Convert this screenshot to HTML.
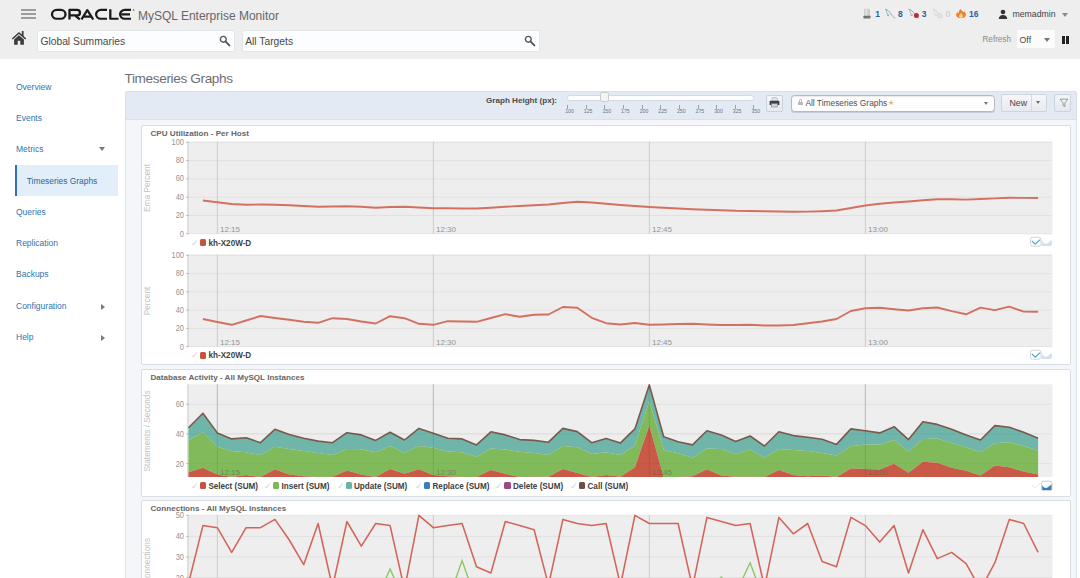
<!DOCTYPE html>
<html>
<head>
<meta charset="utf-8">
<title>MySQL Enterprise Monitor</title>
<style>
*{box-sizing:border-box;margin:0;padding:0}
html,body{width:1080px;height:578px;overflow:hidden;background:#fff;font-family:"Liberation Sans",sans-serif;color:#444}
.abs{position:absolute}
.t{position:absolute;white-space:nowrap;line-height:1}
#hdr{position:absolute;left:0;top:0;width:1080px;height:59px;background:#eeeeee}
.inp{position:absolute;top:29.5px;height:22.5px;background:#fcfdfe;border:1px solid #e4e7ea;border-radius:2px}
.nav{position:absolute;left:16px;font-size:8.5px;color:#2f74ae;white-space:nowrap;line-height:1}
.ax{position:absolute;font-size:8.4px;color:#939393;white-space:nowrap;line-height:1;text-align:right;width:30px;transform:scaleX(.89);transform-origin:100% 50%}
.xl{position:absolute;font-size:8px;color:#939393;white-space:nowrap;line-height:1}
.ttl{position:absolute;font-size:8.1px;font-weight:bold;color:#666;white-space:nowrap;line-height:1;left:150.5px}
.lg{position:absolute;font-size:8.15px;font-weight:bold;color:#404040;white-space:nowrap;line-height:1}
.sq{position:absolute;width:6.2px;height:7px;border-radius:1.5px;margin-top:-0.8px}
.ck{position:absolute;font-size:8.5px;color:#cbd7e4;line-height:1;margin-left:-1.5px;margin-top:-0.6px}
.yl{position:absolute;left:147px;font-size:8.3px;color:#c2c2c2;white-space:nowrap;line-height:1;transform:translate(-50%,-50%) rotate(-90deg)}
.panel{position:absolute;left:141px;width:930px;background:#fff;border:1px solid #d9dee5;border-radius:2px}
</style>
</head>
<body>
<div id="hdr">
  <!-- hamburger -->
  <div class="abs" style="left:20.6px;top:9.2px;width:15px;height:1.8px;background:#9c9c9c"></div>
  <div class="abs" style="left:20.6px;top:13.2px;width:15px;height:1.8px;background:#9c9c9c"></div>
  <div class="abs" style="left:20.6px;top:17.2px;width:15px;height:1.8px;background:#9c9c9c"></div>
  <!-- ORACLE logo -->
  <svg class="abs" style="left:50px;top:7.600px" width="86" height="13.2" viewBox="0 0 86 14" preserveAspectRatio="none">
    <g fill="none" stroke="#1a1a1a" stroke-width="2.3" stroke-linecap="butt" stroke-linejoin="round">
      <rect x="2" y="2" width="13.5" height="9.4" rx="4.7" ry="4.7"/>
      <path d="M19.5 12.2V2H27a2.9 2.9 0 0 1 0 5.9H20.5M25 7.9L29.8 12"/>
      <path d="M31.5 12.2L37.3 2.2L43.2 12.2M33.6 9.2H41.2"/>
      <path d="M57 2H50.8a4.7 4.7 0 0 0 0 9.4H57"/>
      <path d="M60.3 1.2V11.4H68.5"/>
      <path d="M81 2H74.8a4.7 4.7 0 0 0 0 9.4H81M71.5 6.7H80"/>
    </g>
    <circle cx="83.6" cy="2.2" r="0.8" fill="#555"/>
  </svg>
  <div class="t" id="mem" style="left:138px;top:9.6px;font-size:12px;color:#666">MySQL Enterprise Monitor</div>

  <!-- home icon -->
  <svg class="abs" style="left:11px;top:29.6px" width="16" height="16" viewBox="0 0 16 16">
    <path d="M8 1.900L0.8 8.4L1.8 9.5L8 4L14.2 9.5L15.2 8.4L12.600 6V1H10.800V4.400Z" fill="#3c3c3c"/>
    <path d="M8 5.200L3.1 9.6V14.8H6.7V10.8H9.3V14.8H12.9V9.6Z" fill="#3c3c3c"/>
  </svg>
  <div class="inp" style="left:36.6px;width:198.2px"></div>
  <div class="t" id="gs" style="left:40.4px;top:37.3px;font-size:10.3px;color:#4a4a4a">Global Summaries</div>
  <svg class="abs" style="left:218.6px;top:34.6px" width="12" height="12" viewBox="0 0 12 12"><circle cx="4.3" cy="4.3" r="2.9" fill="none" stroke="#555" stroke-width="1.4"/><path d="M6.6 6.6L10.4 10.4" stroke="#555" stroke-width="1.9" stroke-linecap="round"/></svg>
  <div class="inp" style="left:241.8px;width:298px"></div>
  <div class="t" id="at" style="left:245.2px;top:37.3px;font-size:10.3px;color:#4a4a4a">All Targets</div>
  <svg class="abs" style="left:523.6px;top:34.6px" width="12" height="12" viewBox="0 0 12 12"><circle cx="4.3" cy="4.3" r="2.9" fill="none" stroke="#555" stroke-width="1.4"/><path d="M6.6 6.6L10.4 10.4" stroke="#555" stroke-width="1.9" stroke-linecap="round"/></svg>

  <!-- status icons -->
  <svg class="abs" style="left:862px;top:8px" width="112" height="14" viewBox="0 0 112 14">
    <rect x="2" y="0.800" width="6" height="7.600" rx="0.6" fill="#cdcdcd"/><rect x="3.200" y="1.200" width="2.200" height="7" fill="#e2e2e2"/><rect x="1.500" y="7.800" width="7" height="2.600" rx="0.4" fill="#707070"/><rect x="5.600" y="8.800" width="2" height="0.800" fill="#7fb36a"/>
    <g transform="translate(0.0,0)" opacity="1"><path d="M23.4 1.300C25.600 1.600 27.5 3.400 28.800 5.800C29.700 7.500 31 8.800 32.800 9.900" fill="none" stroke="#8fabbc" stroke-width="1" stroke-linecap="round"/><path d="M24.2 1.500C24.500 3.800 25 5.800 26.300 7.600M25.200 7.300L26.500 7.900L26.700 6.500" fill="none" stroke="#8fabbc" stroke-width="0.8" stroke-linecap="round"/></g>
    <g transform="translate(23.5,0)" opacity="1"><path d="M23.4 1.300C25.600 1.600 27.5 3.400 28.800 5.800C29.700 7.500 31 8.800 32.800 9.900" fill="none" stroke="#8fabbc" stroke-width="1" stroke-linecap="round"/><path d="M24.2 1.500C24.500 3.800 25 5.800 26.300 7.600M25.200 7.300L26.500 7.900L26.700 6.500" fill="none" stroke="#8fabbc" stroke-width="0.8" stroke-linecap="round"/></g>
    <circle cx="54.400" cy="7.600" r="2.500" fill="#c22b2b"/>
    <g transform="translate(47.6,0)" opacity="0.8"><path d="M23.4 1.300C25.600 1.600 27.5 3.400 28.800 5.800C29.700 7.500 31 8.800 32.800 9.900" fill="none" stroke="#c9d3da" stroke-width="1" stroke-linecap="round"/><path d="M24.2 1.500C24.500 3.800 25 5.800 26.300 7.600M25.200 7.300L26.500 7.900L26.700 6.500" fill="none" stroke="#c9d3da" stroke-width="0.8" stroke-linecap="round"/></g>
    <circle cx="77.700" cy="7.600" r="2.300" fill="#e3e3e3" stroke="#d0d0d0" stroke-width="0.600"/>
    <path d="M98.600 1C99.200 2.400 100.800 3 101.600 4.600C102.100 4.200 102.300 3.600 102.300 3C103.600 4.600 104.300 6.400 103.600 8C103 9.400 101.400 10 99 10C96.600 10 94.800 9.300 94.300 7.700C93.900 6.300 94.500 5 95.400 4.100C95.500 4.900 95.800 5.400 96.300 5.800C96.400 3.900 97.300 2.200 98.600 1Z" fill="#ee7d2e"/>
    <path d="M99 4.800C99.600 6 101 6.800 100.900 8.300C100.800 9.500 100 10 99 10C98 10 97 9.500 97 8.300C97 7 98.400 6.200 99 4.800Z" fill="#fbd48e"/>
  </svg>
  <div class="t" style="left:875.3px;top:9.7px;font-size:8.5px;font-weight:bold;color:#2c5f9e">1</div>
  <div class="t" style="left:898px;top:9.7px;font-size:8.5px;font-weight:bold;color:#2c5f9e">8</div>
  <div class="t" style="left:921.8px;top:9.7px;font-size:8.5px;font-weight:bold;color:#2c5f9e">3</div>
  <div class="t" style="left:945.6px;top:9.7px;font-size:8.5px;color:#c8c8c8">0</div>
  <div class="t" style="left:969px;top:9.7px;font-size:8.5px;font-weight:bold;color:#2c5f9e">16</div>
  <!-- user -->
  <svg class="abs" style="left:998px;top:9px" width="10" height="11" viewBox="0 0 10 11"><circle cx="5" cy="3" r="2.3" fill="#333"/><path d="M0.8 10C0.8 7.4 2.6 6 5 6C7.4 6 9.200 7.4 9.200 10Z" fill="#333"/></svg>
  <div class="t" id="usr" style="left:1012.5px;top:10px;font-size:8.7px;color:#444">memadmin</div>
  <div class="abs" style="left:1061.5px;top:13px;width:0;height:0;border-left:3px solid transparent;border-right:3px solid transparent;border-top:4px solid #888"></div>
  <!-- refresh -->
  <div class="t" id="rf" style="left:982.5px;top:36.2px;font-size:8.15px;color:#8a8a8a">Refresh</div>
  <div class="abs" style="left:1016.5px;top:30px;width:38.5px;height:17.600px;background:#fcfcfc;border-radius:1px"></div>
  <div class="t" style="left:1019.5px;top:35.5px;font-size:8.8px;color:#444">Off</div>
  <div class="abs" style="left:1043.5px;top:38px;width:0;height:0;border-left:3px solid transparent;border-right:3px solid transparent;border-top:4px solid #777"></div>
  <div class="abs" style="left:1062px;top:35.5px;width:2.6px;height:8.5px;background:#222"></div>
  <div class="abs" style="left:1066.2px;top:35.5px;width:2.6px;height:8.5px;background:#222"></div>
</div>

<!-- sidebar -->
<div class="abs" style="left:15px;top:165px;width:103px;height:31px;background:#e2eef9;border-left:2.4px solid #2f6fc0"></div>
<div class="nav" style="top:83.1px">Overview</div>
<div class="nav" style="top:114.0px">Events</div>
<div class="nav" style="top:145.0px">Metrics</div>
<div class="nav" style="top:176.8px;left:26.8px;font-size:8.4px;color:#2a65a3">Timeseries Graphs</div>
<div class="nav" style="top:208.1px">Queries</div>
<div class="nav" style="top:239.0px">Replication</div>
<div class="nav" style="top:270.4px">Backups</div>
<div class="nav" style="top:302.2px">Configuration</div>
<div class="nav" style="top:333.1px">Help</div>
<div class="abs" style="left:99.2px;top:147.4px;width:0;height:0;border-left:3px solid transparent;border-right:3px solid transparent;border-top:4px solid #7a7a7a"></div>
<div class="abs" style="left:100.6px;top:303.7px;width:0;height:0;border-top:3px solid transparent;border-bottom:3px solid transparent;border-left:4px solid #7a7a7a"></div>
<div class="abs" style="left:100.6px;top:334.7px;width:0;height:0;border-top:3px solid transparent;border-bottom:3px solid transparent;border-left:4px solid #7a7a7a"></div>

<!-- heading -->
<div class="t" id="h1" style="left:124.5px;top:71.5px;font-size:13.6px;letter-spacing:-0.36px;color:#6e6e6e">Timeseries Graphs</div>

<!-- container -->
<div class="abs" style="left:125px;top:91px;width:952px;height:500px;background:#f4f6fa;border:1px solid #dde3ec;border-radius:2px"></div>
<div class="abs" style="left:125px;top:91px;width:952px;height:28.6px;background:#e3eaf4;border:1px solid #d8e0ea;border-radius:2px 2px 0 0"></div>

<!-- toolbar content -->
<div class="t" id="gh" style="left:486px;top:96.500px;font-size:8.1px;font-weight:bold;color:#4a4a4a">Graph Height (px):</div>
<div class="abs" style="left:566.8px;top:94.6px;width:187px;height:6.2px;background:#fdfdfd;border:1px solid #d3d9e2;border-radius:2.5px"></div>
<div class="abs" style="left:600.2px;top:92.2px;width:9.2px;height:9.4px;background:#f4f4f4;border:1px solid #cdcdcd;border-radius:2px"></div>
<div class="abs" style="left:567.2px;top:104.6px;width:1px;height:4px;background:#98a0ac"></div><div class="t" style="left:565.2px;top:109.4px;font-size:5.2px;color:#6a7380">100</div><div class="abs" style="left:585.8px;top:104.6px;width:1px;height:4px;background:#98a0ac"></div><div class="t" style="left:583.8px;top:109.4px;font-size:5.2px;color:#6a7380">125</div><div class="abs" style="left:604.4px;top:104.6px;width:1px;height:4px;background:#98a0ac"></div><div class="t" style="left:602.4px;top:109.4px;font-size:5.2px;color:#6a7380">150</div><div class="abs" style="left:623.1px;top:104.6px;width:1px;height:4px;background:#98a0ac"></div><div class="t" style="left:621.1px;top:109.4px;font-size:5.2px;color:#6a7380">175</div><div class="abs" style="left:641.7px;top:104.6px;width:1px;height:4px;background:#98a0ac"></div><div class="t" style="left:639.7px;top:109.4px;font-size:5.2px;color:#6a7380">200</div><div class="abs" style="left:660.3px;top:104.6px;width:1px;height:4px;background:#98a0ac"></div><div class="t" style="left:658.3px;top:109.4px;font-size:5.2px;color:#6a7380">225</div><div class="abs" style="left:678.9px;top:104.6px;width:1px;height:4px;background:#98a0ac"></div><div class="t" style="left:676.9px;top:109.4px;font-size:5.2px;color:#6a7380">250</div><div class="abs" style="left:697.5px;top:104.6px;width:1px;height:4px;background:#98a0ac"></div><div class="t" style="left:695.5px;top:109.4px;font-size:5.2px;color:#6a7380">275</div><div class="abs" style="left:716.2px;top:104.6px;width:1px;height:4px;background:#98a0ac"></div><div class="t" style="left:714.2px;top:109.4px;font-size:5.2px;color:#6a7380">300</div><div class="abs" style="left:734.8px;top:104.6px;width:1px;height:4px;background:#98a0ac"></div><div class="t" style="left:732.8px;top:109.4px;font-size:5.2px;color:#6a7380">325</div><div class="abs" style="left:753.4px;top:104.6px;width:1px;height:4px;background:#98a0ac"></div><div class="t" style="left:751.4px;top:109.4px;font-size:5.2px;color:#6a7380">350</div>
<!-- print button -->
<div class="abs" style="left:765.5px;top:94.6px;width:17.2px;height:17.4px;background:linear-gradient(#f3f5f8,#e7eaef);border:1px solid #cbd2dc;border-radius:2px"></div>
<svg class="abs" style="left:768.6px;top:97.4px" width="11" height="11" viewBox="0 0 11 11"><path d="M3 0.6H7.4L8.4 1.6V4H3Z" fill="#dfe6e6" stroke="#9aa" stroke-width="0.5"/><path d="M1.4 3.800H9.600Q10.4 3.800 10.4 4.600V8H0.6V4.600Q0.6 3.800 1.4 3.800Z" fill="#3d4046"/><rect x="2.4" y="6.6" width="6.2" height="3.4" fill="#cfd4d8" stroke="#777" stroke-width="0.5"/></svg>
<!-- select -->
<div class="abs" style="left:790.500px;top:94.6px;width:204px;height:17.6px;background:#fdfdfd;border:1px solid #b4b9c1;border-radius:3.5px;box-shadow:inset 0 1px 1px rgba(0,0,0,.08),0 1px 0 rgba(120,120,120,.25)"></div>
<div class="abs" style="left:797.8px;top:101.6px;width:5.4px;height:3.8px;background:#b9b9b9;border-radius:0.6px"></div><div class="abs" style="left:798.8px;top:99.2px;width:3.4px;height:3.6px;border:0.9px solid #b9b9b9;border-bottom:none;border-radius:1.7px 1.7px 0 0"></div>
<div class="t" id="sel" style="left:805.4px;top:98.6px;font-size:8.4px;color:#505050">All Timeseries Graphs</div>
<div class="t" style="left:887.8px;top:99.2px;font-size:7px;color:#dcb94e">&#9733;</div>
<div class="abs" style="left:984px;top:101.5px;width:0;height:0;border-left:2.2px solid transparent;border-right:2.2px solid transparent;border-top:3.2px solid #787878"></div>
<!-- New button -->
<div class="abs" style="left:1000.5px;top:94.3px;width:46.600px;height:17.600px;background:linear-gradient(#f5f6f9,#e7eaef);border:1px solid #ccd3dd;border-radius:2px"></div>
<div class="abs" style="left:1031px;top:94.5px;width:1px;height:17px;background:#d4d9e0"></div>
<div class="t" style="left:1009.500px;top:98.500px;font-size:8.8px;color:#444">New</div>
<div class="abs" style="left:1036px;top:101px;width:0;height:0;border-left:2.5px solid transparent;border-right:2.5px solid transparent;border-top:3.2px solid #6a6a6a"></div>
<!-- filter -->
<div class="abs" style="left:1054.3px;top:94.3px;width:17.2px;height:17.600px;background:linear-gradient(#f3f5f8,#e5e8ee);border:1px solid #ccd3dd;border-radius:2px"></div>
<svg class="abs" style="left:1058.5px;top:98px" width="10" height="10" viewBox="0 0 10 10"><path d="M1.2 1.2H8.8L5.9 4.800V8.6L4.100 7.600V4.800Z" fill="#f7f7f7" stroke="#8a8a8a" stroke-width="0.9" stroke-linejoin="round"/></svg>

<!-- panels -->
<div class="panel" style="top:125.2px;height:240.300px"></div>
<div class="panel" style="top:369.3px;height:127.600px"></div>
<div class="panel" style="top:500px;height:90px"></div>

<svg class="abs" style="left:0;top:0" width="1080" height="578" viewBox="0 0 1080 578">
<rect x="188.5" y="141.6" width="864.0" height="92.2" fill="#eeeeee"/>
<line x1="188.5" x2="1052.5" y1="142.3" y2="142.3" stroke="#d4d4d4" stroke-width="1" stroke-dasharray="1,1"/><line x1="188.5" x2="1052.5" y1="160.6" y2="160.6" stroke="#d4d4d4" stroke-width="1" stroke-dasharray="1,1"/><line x1="188.5" x2="1052.5" y1="178.9" y2="178.9" stroke="#d4d4d4" stroke-width="1" stroke-dasharray="1,1"/><line x1="188.5" x2="1052.5" y1="197.2" y2="197.2" stroke="#d4d4d4" stroke-width="1" stroke-dasharray="1,1"/><line x1="188.5" x2="1052.5" y1="215.5" y2="215.5" stroke="#d4d4d4" stroke-width="1" stroke-dasharray="1,1"/><line x1="188.5" x2="1052.5" y1="233.8" y2="233.8" stroke="#d4d4d4" stroke-width="1" stroke-dasharray="1,1"/>
<line x1="217.4" x2="217.4" y1="141.6" y2="233.8" stroke="#cdcdcd" stroke-width="1.1"/><line x1="433.4" x2="433.4" y1="141.6" y2="233.8" stroke="#cdcdcd" stroke-width="1.1"/><line x1="649.4" x2="649.4" y1="141.6" y2="233.8" stroke="#cdcdcd" stroke-width="1.1"/><line x1="865.4" x2="865.4" y1="141.6" y2="233.8" stroke="#cdcdcd" stroke-width="1.1"/>
<line x1="188" x2="188" y1="141.6" y2="233.8" stroke="#d9d9d9" stroke-width="1.6"/><line x1="186.3" x2="188.6" y1="142.3" y2="142.3" stroke="#b6b6b6" stroke-width="1"/><line x1="186.3" x2="188.6" y1="160.6" y2="160.6" stroke="#b6b6b6" stroke-width="1"/><line x1="186.3" x2="188.6" y1="178.9" y2="178.9" stroke="#b6b6b6" stroke-width="1"/><line x1="186.3" x2="188.6" y1="197.2" y2="197.2" stroke="#b6b6b6" stroke-width="1"/><line x1="186.3" x2="188.6" y1="215.5" y2="215.5" stroke="#b6b6b6" stroke-width="1"/><line x1="186.3" x2="188.6" y1="233.8" y2="233.8" stroke="#b6b6b6" stroke-width="1"/>
<polyline fill="none" stroke="#d4705f" stroke-width="1.9" stroke-linejoin="round" points="202.9,200.5 217.3,202.2 231.7,204.0 246.1,204.8 260.5,204.5 274.9,204.8 289.3,205.2 303.7,206.0 318.1,206.8 332.5,206.5 346.9,206.2 361.3,206.8 375.7,207.8 390.1,207.0 404.5,206.8 418.9,207.5 433.3,208.2 447.7,208.2 462.1,208.5 476.5,208.5 490.9,207.8 505.3,206.8 519.7,206.0 534.1,205.2 548.5,204.5 562.9,203.0 577.3,201.8 591.7,202.5 606.1,203.8 620.5,205.0 634.9,206.0 649.3,207.0 663.7,207.8 678.1,208.5 692.5,209.2 706.9,209.8 721.3,210.2 735.7,210.8 750.1,211.0 764.5,211.2 778.9,211.5 793.3,211.8 807.7,211.6 822.1,211.2 836.5,210.5 850.9,208.0 865.3,205.5 879.7,203.8 894.1,202.5 908.5,201.5 922.9,200.2 937.3,199.2 951.7,199.2 966.1,199.6 980.5,199.0 994.9,198.4 1009.3,197.8 1023.7,197.9 1038.1,198.0"/>
<rect x="188.5" y="254.4" width="864.0" height="92.4" fill="#eeeeee"/>
<line x1="188.5" x2="1052.5" y1="255.3" y2="255.3" stroke="#d4d4d4" stroke-width="1" stroke-dasharray="1,1"/><line x1="188.5" x2="1052.5" y1="273.6" y2="273.6" stroke="#d4d4d4" stroke-width="1" stroke-dasharray="1,1"/><line x1="188.5" x2="1052.5" y1="291.8" y2="291.8" stroke="#d4d4d4" stroke-width="1" stroke-dasharray="1,1"/><line x1="188.5" x2="1052.5" y1="310.1" y2="310.1" stroke="#d4d4d4" stroke-width="1" stroke-dasharray="1,1"/><line x1="188.5" x2="1052.5" y1="328.4" y2="328.4" stroke="#d4d4d4" stroke-width="1" stroke-dasharray="1,1"/><line x1="188.5" x2="1052.5" y1="346.6" y2="346.6" stroke="#d4d4d4" stroke-width="1" stroke-dasharray="1,1"/>
<line x1="217.4" x2="217.4" y1="254.4" y2="346.8" stroke="#cdcdcd" stroke-width="1.1"/><line x1="433.4" x2="433.4" y1="254.4" y2="346.8" stroke="#cdcdcd" stroke-width="1.1"/><line x1="649.4" x2="649.4" y1="254.4" y2="346.8" stroke="#cdcdcd" stroke-width="1.1"/><line x1="865.4" x2="865.4" y1="254.4" y2="346.8" stroke="#cdcdcd" stroke-width="1.1"/>
<line x1="188" x2="188" y1="254.4" y2="346.8" stroke="#d9d9d9" stroke-width="1.6"/><line x1="186.3" x2="188.6" y1="255.3" y2="255.3" stroke="#b6b6b6" stroke-width="1"/><line x1="186.3" x2="188.6" y1="273.6" y2="273.6" stroke="#b6b6b6" stroke-width="1"/><line x1="186.3" x2="188.6" y1="291.8" y2="291.8" stroke="#b6b6b6" stroke-width="1"/><line x1="186.3" x2="188.6" y1="310.1" y2="310.1" stroke="#b6b6b6" stroke-width="1"/><line x1="186.3" x2="188.6" y1="328.4" y2="328.4" stroke="#b6b6b6" stroke-width="1"/><line x1="186.3" x2="188.6" y1="346.6" y2="346.6" stroke="#b6b6b6" stroke-width="1"/>
<polyline fill="none" stroke="#d4705f" stroke-width="1.9" stroke-linejoin="round" points="202.9,319.0 217.3,322.0 231.7,324.8 246.1,320.5 260.5,316.0 274.9,318.0 289.3,319.8 303.7,321.8 318.1,322.8 332.5,318.2 346.9,319.0 361.3,321.5 375.7,323.5 390.1,316.2 404.5,318.2 418.9,323.8 433.3,324.8 447.7,321.2 462.1,321.5 476.5,321.8 490.9,318.0 505.3,314.2 519.7,316.8 534.1,314.8 548.5,314.5 562.9,307.0 577.3,307.8 591.7,317.8 606.1,323.2 620.5,324.5 634.9,323.0 649.3,324.8 663.7,324.5 678.1,324.0 692.5,323.8 706.9,324.5 721.3,325.0 735.7,325.0 750.1,324.8 764.5,325.5 778.9,325.5 793.3,325.0 807.7,323.2 822.1,321.5 836.5,319.0 850.9,311.0 865.3,308.2 879.7,307.8 894.1,309.2 908.5,310.5 922.9,308.2 937.3,307.5 951.7,311.1 966.1,314.3 980.5,307.6 994.9,310.1 1009.3,306.7 1023.7,311.6 1038.1,311.8"/>
<rect x="188.5" y="384.3" width="864.0" height="92.8" fill="#eeeeee"/>
<line x1="188.5" x2="1052.5" y1="404.3" y2="404.3" stroke="#d4d4d4" stroke-width="1" stroke-dasharray="1,1"/><line x1="188.5" x2="1052.5" y1="433.9" y2="433.9" stroke="#d4d4d4" stroke-width="1" stroke-dasharray="1,1"/><line x1="188.5" x2="1052.5" y1="463.6" y2="463.6" stroke="#d4d4d4" stroke-width="1" stroke-dasharray="1,1"/>
<line x1="217.4" x2="217.4" y1="384.3" y2="477.1" stroke="#cdcdcd" stroke-width="1.1"/><line x1="433.4" x2="433.4" y1="384.3" y2="477.1" stroke="#cdcdcd" stroke-width="1.1"/><line x1="649.4" x2="649.4" y1="384.3" y2="477.1" stroke="#cdcdcd" stroke-width="1.1"/><line x1="865.4" x2="865.4" y1="384.3" y2="477.1" stroke="#cdcdcd" stroke-width="1.1"/>
<line x1="188" x2="188" y1="384.3" y2="477.1" stroke="#d9d9d9" stroke-width="1.6"/><line x1="186.3" x2="188.6" y1="404.3" y2="404.3" stroke="#b6b6b6" stroke-width="1"/><line x1="186.3" x2="188.6" y1="433.9" y2="433.9" stroke="#b6b6b6" stroke-width="1"/><line x1="186.3" x2="188.6" y1="463.6" y2="463.6" stroke="#b6b6b6" stroke-width="1"/>
<polygon fill="#6fb5aa" points="188.5,427.8 202.9,413.3 217.3,432.9 231.7,438.9 246.1,437.8 260.5,442.7 274.9,429.3 289.3,434.4 303.7,438.2 318.1,441.1 332.5,442.7 346.9,432.7 361.3,434.9 375.7,440.4 390.1,432.2 404.5,440.0 418.9,428.4 433.3,433.3 447.7,438.2 462.1,438.9 476.5,444.9 490.9,431.8 505.3,434.9 519.7,439.6 534.1,440.4 548.5,442.2 562.9,428.4 577.3,431.6 591.7,442.7 606.1,438.4 620.5,442.9 634.9,428.9 649.3,384.9 663.7,436.7 678.1,441.8 692.5,444.9 706.9,430.7 721.3,434.9 735.7,441.6 750.1,436.0 764.5,446.0 778.9,431.8 793.3,435.6 807.7,437.3 822.1,439.3 836.5,444.4 850.9,428.9 865.3,430.7 879.7,432.9 894.1,426.7 908.5,439.6 922.9,421.8 937.3,424.4 951.7,429.3 966.1,434.9 980.5,440.0 994.9,425.6 1009.3,427.3 1023.7,432.2 1038.1,438.2 1038.1,450.4 1023.7,446.0 1009.3,442.2 994.9,443.3 980.5,452.2 966.1,447.3 951.7,442.9 937.3,438.4 922.9,438.9 908.5,451.6 894.1,440.0 879.7,444.7 865.3,444.4 850.9,446.2 836.5,455.6 822.1,452.9 807.7,451.1 793.3,450.0 778.9,448.9 764.5,457.8 750.1,449.6 735.7,454.0 721.3,448.9 706.9,448.4 692.5,457.8 678.1,453.3 663.7,450.0 649.3,401.1 634.9,445.6 620.5,455.1 606.1,452.2 591.7,454.0 577.3,447.3 562.9,446.0 548.5,454.9 534.1,452.9 519.7,451.8 505.3,449.6 490.9,448.4 476.5,456.7 462.1,452.2 447.7,451.6 433.3,447.8 418.9,446.0 404.5,452.7 390.1,446.0 375.7,452.2 361.3,449.3 346.9,448.9 332.5,455.1 318.1,452.9 303.7,451.1 289.3,448.9 274.9,446.7 260.5,455.1 246.1,452.2 231.7,451.1 217.3,446.7 202.9,432.2 188.5,440.0"/>
<polygon fill="#80ba5a" points="188.5,440.0 202.9,432.2 217.3,446.7 231.7,451.1 246.1,452.2 260.5,455.1 274.9,446.7 289.3,448.9 303.7,451.1 318.1,452.9 332.5,455.1 346.9,448.9 361.3,449.3 375.7,452.2 390.1,446.0 404.5,452.7 418.9,446.0 433.3,447.8 447.7,451.6 462.1,452.2 476.5,456.7 490.9,448.4 505.3,449.6 519.7,451.8 534.1,452.9 548.5,454.9 562.9,446.0 577.3,447.3 591.7,454.0 606.1,452.2 620.5,455.1 634.9,445.6 649.3,401.1 663.7,450.0 678.1,453.3 692.5,457.8 706.9,448.4 721.3,448.9 735.7,454.0 750.1,449.6 764.5,457.8 778.9,448.9 793.3,450.0 807.7,451.1 822.1,452.9 836.5,455.6 850.9,446.2 865.3,444.4 879.7,444.7 894.1,440.0 908.5,451.6 922.9,438.9 937.3,438.4 951.7,442.9 966.1,447.3 980.5,452.2 994.9,443.3 1009.3,442.2 1023.7,446.0 1038.1,450.4 1038.1,474.4 1023.7,471.6 1009.3,467.3 994.9,465.6 980.5,475.6 966.1,470.7 951.7,467.8 937.3,462.7 922.9,461.8 908.5,472.7 894.1,463.8 879.7,469.6 865.3,468.9 850.9,468.4 836.5,477.1 822.1,475.6 807.7,476.2 793.3,475.1 778.9,470.0 764.5,477.1 750.1,476.7 735.7,476.7 721.3,475.6 706.9,469.3 692.5,476.2 678.1,477.1 663.7,477.1 649.3,425.6 634.9,467.3 620.5,476.7 606.1,475.1 591.7,477.1 577.3,472.9 562.9,468.9 548.5,476.7 534.1,476.7 519.7,477.1 505.3,473.8 490.9,470.0 476.5,477.1 462.1,477.1 447.7,476.2 433.3,475.1 418.9,469.3 404.5,473.8 390.1,468.9 375.7,477.1 361.3,474.4 346.9,470.4 332.5,476.7 318.1,477.1 303.7,476.2 289.3,474.4 274.9,469.3 260.5,477.1 246.1,475.1 231.7,477.1 217.3,474.4 202.9,467.8 188.5,472.2"/>
<polygon fill="#c95a47" points="188.5,472.2 202.9,467.8 217.3,474.4 231.7,477.1 246.1,475.1 260.5,477.1 274.9,469.3 289.3,474.4 303.7,476.2 318.1,477.1 332.5,476.7 346.9,470.4 361.3,474.4 375.7,477.1 390.1,468.9 404.5,473.8 418.9,469.3 433.3,475.1 447.7,476.2 462.1,477.1 476.5,477.1 490.9,470.0 505.3,473.8 519.7,477.1 534.1,476.7 548.5,476.7 562.9,468.9 577.3,472.9 591.7,477.1 606.1,475.1 620.5,476.7 634.9,467.3 649.3,425.6 663.7,477.1 678.1,477.1 692.5,476.2 706.9,469.3 721.3,475.6 735.7,476.7 750.1,476.7 764.5,477.1 778.9,470.0 793.3,475.1 807.7,476.2 822.1,475.6 836.5,477.1 850.9,468.4 865.3,468.9 879.7,469.6 894.1,463.8 908.5,472.7 922.9,461.8 937.3,462.7 951.7,467.8 966.1,470.7 980.5,475.6 994.9,465.6 1009.3,467.3 1023.7,471.6 1038.1,474.4 1038.1,477.1 1023.7,477.1 1009.3,477.1 994.9,477.1 980.5,477.1 966.1,477.1 951.7,477.1 937.3,477.1 922.9,477.1 908.5,477.1 894.1,477.1 879.7,477.1 865.3,477.1 850.9,477.1 836.5,477.1 822.1,477.1 807.7,477.1 793.3,477.1 778.9,477.1 764.5,477.1 750.1,477.1 735.7,477.1 721.3,477.1 706.9,477.1 692.5,477.1 678.1,477.1 663.7,477.1 649.3,477.1 634.9,477.1 620.5,477.1 606.1,477.1 591.7,477.1 577.3,477.1 562.9,477.1 548.5,477.1 534.1,477.1 519.7,477.1 505.3,477.1 490.9,477.1 476.5,477.1 462.1,477.1 447.7,477.1 433.3,477.1 418.9,477.1 404.5,477.1 390.1,477.1 375.7,477.1 361.3,477.1 346.9,477.1 332.5,477.1 318.1,477.1 303.7,477.1 289.3,477.1 274.9,477.1 260.5,477.1 246.1,477.1 231.7,477.1 217.3,477.1 202.9,477.1 188.5,477.1"/>
<polyline fill="none" stroke="#7a5a4c" stroke-width="1.6" stroke-linejoin="round" points="188.5,427.8 202.9,413.3 217.3,432.9 231.7,438.9 246.1,437.8 260.5,442.7 274.9,429.3 289.3,434.4 303.7,438.2 318.1,441.1 332.5,442.7 346.9,432.7 361.3,434.9 375.7,440.4 390.1,432.2 404.5,440.0 418.9,428.4 433.3,433.3 447.7,438.2 462.1,438.9 476.5,444.9 490.9,431.8 505.3,434.9 519.7,439.6 534.1,440.4 548.5,442.2 562.9,428.4 577.3,431.6 591.7,442.7 606.1,438.4 620.5,442.9 634.9,428.9 649.3,384.9 663.7,436.7 678.1,441.8 692.5,444.9 706.9,430.7 721.3,434.9 735.7,441.6 750.1,436.0 764.5,446.0 778.9,431.8 793.3,435.6 807.7,437.3 822.1,439.3 836.5,444.4 850.9,428.9 865.3,430.7 879.7,432.9 894.1,426.7 908.5,439.6 922.9,421.8 937.3,424.4 951.7,429.3 966.1,434.9 980.5,440.0 994.9,425.6 1009.3,427.3 1023.7,432.2 1038.1,438.2"/>
<line x1="217.4" x2="217.4" y1="384.3" y2="477.1" stroke="rgba(40,40,40,0.10)" stroke-width="1.1"/><line x1="433.4" x2="433.4" y1="384.3" y2="477.1" stroke="rgba(40,40,40,0.10)" stroke-width="1.1"/><line x1="649.4" x2="649.4" y1="384.3" y2="477.1" stroke="rgba(40,40,40,0.10)" stroke-width="1.1"/><line x1="865.4" x2="865.4" y1="384.3" y2="477.1" stroke="rgba(40,40,40,0.10)" stroke-width="1.1"/>
<line x1="188.5" x2="1038.1" y1="433.9" y2="433.9" stroke="rgba(40,40,40,0.07)" stroke-width="1" stroke-dasharray="1,1"/><line x1="188.5" x2="1038.1" y1="463.6" y2="463.6" stroke="rgba(40,40,40,0.07)" stroke-width="1" stroke-dasharray="1,1"/>
<rect x="188.5" y="515.3" width="864.0" height="62.7" fill="#eeeeee"/>
<line x1="188.5" x2="1052.5" y1="515.3" y2="515.3" stroke="#d4d4d4" stroke-width="1" stroke-dasharray="1,1"/><line x1="188.5" x2="1052.5" y1="536.4" y2="536.4" stroke="#d4d4d4" stroke-width="1" stroke-dasharray="1,1"/><line x1="188.5" x2="1052.5" y1="556.9" y2="556.9" stroke="#d4d4d4" stroke-width="1" stroke-dasharray="1,1"/><line x1="188.5" x2="1052.5" y1="577.5" y2="577.5" stroke="#d4d4d4" stroke-width="1" stroke-dasharray="1,1"/>
<line x1="217.4" x2="217.4" y1="515.3" y2="578.0" stroke="#cdcdcd" stroke-width="1.1"/><line x1="433.4" x2="433.4" y1="515.3" y2="578.0" stroke="#cdcdcd" stroke-width="1.1"/><line x1="649.4" x2="649.4" y1="515.3" y2="578.0" stroke="#cdcdcd" stroke-width="1.1"/><line x1="865.4" x2="865.4" y1="515.3" y2="578.0" stroke="#cdcdcd" stroke-width="1.1"/>
<line x1="188" x2="188" y1="515.3" y2="578.0" stroke="#d9d9d9" stroke-width="1.6"/><line x1="186.3" x2="188.6" y1="515.3" y2="515.3" stroke="#b6b6b6" stroke-width="1"/><line x1="186.3" x2="188.6" y1="536.4" y2="536.4" stroke="#b6b6b6" stroke-width="1"/><line x1="186.3" x2="188.6" y1="556.9" y2="556.9" stroke="#b6b6b6" stroke-width="1"/><line x1="186.3" x2="188.6" y1="577.5" y2="577.5" stroke="#b6b6b6" stroke-width="1"/>
<polyline fill="none" stroke="#8cc665" stroke-width="1.4" points="202.9,601.8 217.3,601.8 231.7,601.8 246.1,601.8 260.5,601.8 274.9,601.8 289.3,601.8 303.7,601.8 318.1,601.8 332.5,601.8 346.9,601.8 361.3,601.8 375.7,601.8 390.1,568.9 404.5,601.8 418.9,601.8 433.3,601.8 447.7,601.8 462.1,560.6 476.5,601.8 490.9,601.8 505.3,601.8 519.7,601.8 534.1,601.8 548.5,601.8 562.9,601.8 577.3,601.8 591.7,601.8 606.1,601.8 620.5,601.8 634.9,601.8 649.3,601.8 663.7,601.8 678.1,601.8 692.5,601.8 706.9,593.6 721.3,577.1 735.7,593.6 750.1,562.7 764.5,601.8 778.9,601.8 793.3,601.8 807.7,601.8 822.1,601.8 836.5,601.8 850.9,601.8 865.3,601.8 879.7,601.8 894.1,601.8 908.5,601.8 922.9,601.8 937.3,601.8 951.7,601.8 966.1,601.8 980.5,601.8 994.9,601.8 1009.3,601.8 1023.7,601.8 1038.1,601.8"/>
<polyline fill="none" stroke="#d2655a" stroke-width="1.55" stroke-linejoin="round" points="188.5,583.3 202.9,525.6 217.3,527.7 231.7,552.4 246.1,527.7 260.5,527.7 274.9,519.4 289.3,540.0 303.7,564.7 318.1,523.5 332.5,587.4 346.9,521.5 361.3,546.2 375.7,523.5 390.1,525.6 404.5,589.5 418.9,515.3 433.3,527.7 447.7,525.6 462.1,523.5 476.5,566.8 490.9,573.0 505.3,521.5 519.7,525.6 534.1,529.7 548.5,585.3 562.9,519.4 577.3,523.5 591.7,525.6 606.1,523.5 620.5,585.3 634.9,515.3 649.3,523.5 663.7,523.5 678.1,523.5 692.5,587.4 706.9,517.4 721.3,521.5 735.7,525.6 750.1,523.5 764.5,587.4 778.9,517.4 793.3,533.8 807.7,523.5 822.1,561.6 836.5,566.8 850.9,517.4 865.3,525.6 879.7,542.1 894.1,525.6 908.5,573.0 922.9,529.7 937.3,558.6 951.7,552.4 966.1,563.7 980.5,589.5 994.9,562.7 1009.3,519.4 1023.7,523.5 1038.1,552.4"/>
</svg>

<!-- chart 1 labels -->
<div class="ttl" style="top:129.9px">CPU Utilization - Per Host</div>
<div class="ax" style="left:154px;top:137.9px">100</div>
<div class="ax" style="left:154px;top:156.1px">80</div>
<div class="ax" style="left:154px;top:174.4px">60</div>
<div class="ax" style="left:154px;top:192.8px">40</div>
<div class="ax" style="left:154px;top:211.2px">20</div>
<div class="ax" style="left:154px;top:229.5px">0</div>
<div class="yl" style="top:187.6px">Ema Percent</div>
<div class="xl" style="left:220px;top:225.7px">12:15</div>
<div class="xl" style="left:436px;top:225.7px">12:30</div>
<div class="xl" style="left:652px;top:225.7px">12:45</div>
<div class="xl" style="left:868px;top:225.7px">13:00</div>
<div class="ck" style="left:192.500px;top:239.5px">&#10003;</div>
<div class="sq" style="left:200.2px;top:240px;background:#c9523f"></div>
<div class="lg" style="left:208.500px;top:239.8px">kh-X20W-D</div>

<!-- chart 2 labels -->
<div class="ax" style="left:154px;top:250.7px">100</div>
<div class="ax" style="left:154px;top:269.1px">80</div>
<div class="ax" style="left:154px;top:287.5px">60</div>
<div class="ax" style="left:154px;top:305.9px">40</div>
<div class="ax" style="left:154px;top:324.3px">20</div>
<div class="ax" style="left:154px;top:342.7px">0</div>
<div class="yl" style="top:300.6px">Percent</div>
<div class="xl" style="left:220px;top:338.7px">12:15</div>
<div class="xl" style="left:436px;top:338.7px">12:30</div>
<div class="xl" style="left:652px;top:338.7px">12:45</div>
<div class="xl" style="left:868px;top:338.7px">13:00</div>
<div class="ck" style="left:192.500px;top:352px">&#10003;</div>
<div class="sq" style="left:200.2px;top:352.5px;background:#c9523f"></div>
<div class="lg" style="left:208.500px;top:352.3px">kh-X20W-D</div>

<!-- chart 3 labels -->
<div class="ttl" style="top:373.8px">Database Activity - All MySQL Instances</div>
<div class="ax" style="left:154px;top:400.4px">60</div>
<div class="ax" style="left:154px;top:429.9px">40</div>
<div class="ax" style="left:154px;top:459.7px">20</div>
<div class="yl" style="top:430.6px">Statements / Seconds</div>
<div class="xl" style="left:220px;top:468.7px;color:rgba(90,90,70,.55)">12:15</div>
<div class="xl" style="left:436px;top:468.7px;color:rgba(90,90,70,.55)">12:30</div>
<div class="xl" style="left:652px;top:468.7px;color:rgba(90,90,70,.55)">12:45</div>
<div class="xl" style="left:868px;top:468.7px;color:rgba(90,90,70,.55)">13:00</div>

<div class="ck" style="left:192.500px;top:482.500px">&#10003;</div>
<div class="sq" style="left:200.2px;top:483px;background:#c9523f"></div>
<div class="lg" style="left:208.4px;top:482.8px">Select (SUM)</div>
<div class="ck" style="left:265.5px;top:482.500px">&#10003;</div>
<div class="sq" style="left:273.2px;top:483px;background:#7cb853"></div>
<div class="lg" style="left:281.600px;top:482.8px">Insert (SUM)</div>
<div class="ck" style="left:338px;top:482.500px">&#10003;</div>
<div class="sq" style="left:345.600px;top:483px;background:#6bb3a8"></div>
<div class="lg" style="left:354px;top:482.8px">Update (SUM)</div>
<div class="ck" style="left:416.5px;top:482.500px">&#10003;</div>
<div class="sq" style="left:424.3px;top:483px;background:#3e7cb5"></div>
<div class="lg" style="left:432.5px;top:482.8px">Replace (SUM)</div>
<div class="ck" style="left:496.5px;top:482.500px">&#10003;</div>
<div class="sq" style="left:504.4px;top:483px;background:#9b4a85"></div>
<div class="lg" style="left:513px;top:482.8px">Delete (SUM)</div>
<div class="ck" style="left:571px;top:482.500px">&#10003;</div>
<div class="sq" style="left:579px;top:483px;background:#6b4f3f"></div>
<div class="lg" style="left:587.5px;top:482.8px">Call (SUM)</div>

<!-- chart 4 labels -->
<div class="ttl" style="top:504.9px">Connections - All MySQL Instances</div>
<div class="ax" style="left:154px;top:511.4px">50</div>
<div class="ax" style="left:154px;top:532.4px">40</div>
<div class="ax" style="left:154px;top:552.9px">30</div>
<div class="ax" style="left:154px;top:573.5px">20</div>
<div class="yl" style="top:561.2px">Connections</div>

<!-- toggle icons -->
<svg class="abs" style="left:1029px;top:236px" width="24" height="12" viewBox="0 0 24 12"><rect x="1.500" y="1.2" width="10.5" height="9" rx="2" fill="#fff" stroke="#cfcfcf" stroke-width="0.9"/><path d="M2.8 4.800L6.200 8.200L11.2 3.6" fill="none" stroke="#4aa3d8" stroke-width="1.2"/><path d="M12.800 3.800C14.200 8 17 8.600 19.200 7C20.600 6 21.600 4.800 22.800 3.600V8.600Q22.800 10 21.400 10H12.800Z" fill="#cfe0ee"/></svg>
<svg class="abs" style="left:1029px;top:349px" width="24" height="12" viewBox="0 0 24 12"><rect x="1.500" y="1.2" width="10.5" height="9" rx="2" fill="#fff" stroke="#cfcfcf" stroke-width="0.9"/><path d="M2.8 4.800L6.200 8.200L11.2 3.6" fill="none" stroke="#4aa3d8" stroke-width="1.2"/><path d="M12.800 3.800C14.200 8 17 8.600 19.200 7C20.600 6 21.600 4.800 22.800 3.600V8.600Q22.800 10 21.400 10H12.800Z" fill="#cfe0ee"/></svg>
<svg class="abs" style="left:1029px;top:480px" width="24" height="12" viewBox="0 0 24 12"><path d="M2.8 4.800L6.200 8.200L11.2 3.6" fill="none" stroke="#dfe9f0" stroke-width="1"/><rect x="12.500" y="1.2" width="10.5" height="9.5" rx="2" fill="#fff" stroke="#c9c9c9" stroke-width="0.9"/><path d="M13.200 5C14.5 8.2 17 8.6 19 7.2C20.500 6.2 21.5 5.2 22.5 4.200V10H13.200Z" fill="#2f7fc0"/></svg>

</body>
</html>
